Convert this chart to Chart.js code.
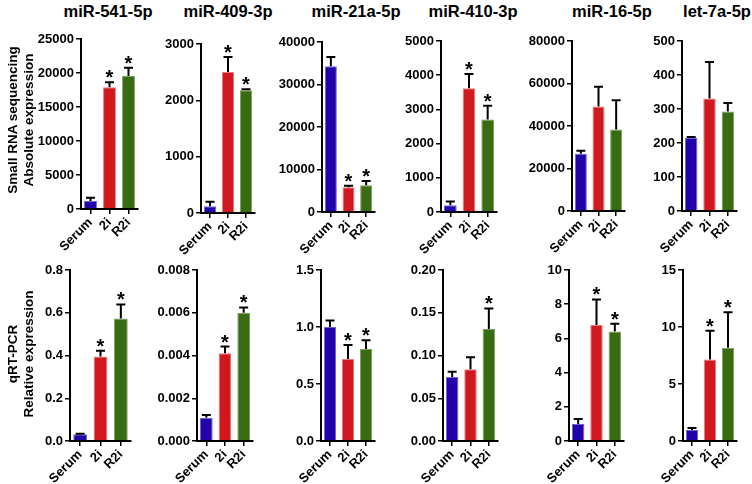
<!DOCTYPE html>
<html>
<head>
<meta charset="utf-8">
<script src="https://cdn.jsdelivr.net/npm/chart.js@4.4.1/dist/chart.umd.min.js"></script>
<style>
body { margin: 0; background: #fff; }
#wrap { position: relative; width: 752px; height: 484px; font-family: 'Liberation Sans', Arial, sans-serif; color: #000; }
#wrap canvas { position: absolute; }
.title { position: absolute; font-weight: bold; font-size: 16.5px; line-height: 18px; transform: translateX(-50%); white-space: nowrap; }
.ytitle { position: absolute; font-weight: bold; font-size: 13.5px; line-height: 16px; text-align: center; white-space: nowrap; transform: translate(-50%, -50%) rotate(-90deg); }
</style>
</head>
<body>
<div id="wrap"></div>
<script>
// groups and miRNA names
const groups = ['Serum', '2i', 'R2i'];
const mirNames = ['miR-541-5p', 'miR-409-3p', 'miR-21a-5p', 'miR-410-3p', 'miR-16-5p', 'let-7a-5p'];
const barColors = ['#2200aa', '#d0191e', '#386b12'];
const barEdges = ['#6f63d0', '#e87b7e', '#7f9e63'];

// small RNA sequencing (absolute expression): mean, SEM, significance
const seqMean = [[1180, 17890, 19560], [120, 2505, 2180], [34300, 5850, 6300], [195, 3615, 2705], [26900, 49200, 38400], [215, 331, 293]];
const seqSem = [[480, 740, 1220], [80, 265, 18], [2150, 350, 1000], [110, 420, 400], [1400, 9300, 13700], [3, 107, 25]];
const seqStar = [[0, 1, 1], [0, 1, 1], [0, 1, 1], [0, 1, 1], [0, 0, 0], [0, 0, 0]];
const seqMax = [25000, 3000, 40000, 5000, 80000, 500];
const seqStep = [5000, 1000, 10000, 1000, 20000, 100];
const seqDec = [0, 0, 0, 0, 0, 0];

// qRT-PCR (relative expression)
const pcrMean = [[0.031, 0.395, 0.573], [0.00109, 0.00411, 0.0060], [1.0, 0.719, 0.807], [0.075, 0.084, 0.131], [0.99, 6.78, 6.41], [0.96, 7.16, 8.19]];
const pcrSem = [[0.003, 0.027, 0.066], [0.00013, 0.00031, 0.00025], [0.056, 0.123, 0.076], [0.006, 0.014, 0.024], [0.3, 1.5, 0.45], [0.18, 2.52, 3.1]];
const pcrStar = [[0, 1, 1], [0, 1, 1], [0, 1, 1], [0, 0, 1], [0, 1, 1], [0, 1, 1]];
const pcrMax = [0.8, 0.008, 1.5, 0.2, 10, 15];
const pcrStep = [0.2, 0.002, 0.5, 0.05, 2, 5];
const pcrDec = [1, 3, 1, 2, 0, 0];

// panel placement in the page
const topBoxes = [
    { ax: 81, ty: 39, zy: 209, cw: 57 },
    { ax: 201, ty: 44, zy: 213, cw: 54 },
    { ax: 322, ty: 42, zy: 212, cw: 53 },
    { ax: 441, ty: 41, zy: 212, cw: 56 },
    { ax: 572, ty: 41, zy: 211, cw: 53 },
    { ax: 682, ty: 41, zy: 211, cw: 55 }
];
const bottomBoxes = [
    { ax: 70, ty: 270, zy: 441, cw: 61 },
    { ax: 197, ty: 270, zy: 441, cw: 56 },
    { ax: 321, ty: 270, zy: 441, cw: 54 },
    { ax: 443, ty: 270, zy: 441, cw: 55 },
    { ax: 569, ty: 270, zy: 441, cw: 55 },
    { ax: 683, ty: 270, zy: 441, cw: 54 }
];
const titleX = [108, 228, 356, 473, 612, 717];

Chart.defaults.font.family = "'Liberation Sans', Arial, sans-serif";
Chart.defaults.color = '#000';

const wrap = document.getElementById('wrap');

const errorBars = {
    id: 'errorBars',
    afterDatasetsDraw(chart, args, opts) {
        const ctx = chart.ctx;
        const y = chart.scales.y;
        const meta = chart.getDatasetMeta(0);
        ctx.save();
        ctx.strokeStyle = '#000';
        ctx.fillStyle = '#000';
        ctx.lineWidth = 2;
        ctx.font = "bold 20px 'Liberation Sans', Arial, sans-serif";
        ctx.textAlign = 'center';
        ctx.textBaseline = 'alphabetic';
        meta.data.forEach((bar, i) => {
            const base = y.getPixelForValue(opts.mean[i]);
            const top = y.getPixelForValue(opts.mean[i] + opts.sem[i]);
            ctx.beginPath();
            ctx.moveTo(bar.x, base);
            ctx.lineTo(bar.x, top);
            ctx.moveTo(bar.x - 4.5, top);
            ctx.lineTo(bar.x + 4.5, top);
            ctx.stroke();
            if (opts.star[i]) {
                ctx.fillText('*', bar.x, top + 2);
            }
        });
        ctx.restore();
    }
};

function makePanel(box, mean, sem, star, max, step, dec) {
    const yw = 48, padTop = 12, xh = 46, padRight = 6;
    const canvas = document.createElement('canvas');
    canvas.width = yw + box.cw + padRight;
    canvas.height = padTop + (box.zy - box.ty) + xh;
    canvas.style.left = (box.ax - yw) + 'px';
    canvas.style.top = (box.ty - padTop) + 'px';
    wrap.appendChild(canvas);

    new Chart(canvas, {
        type: 'bar',
        data: {
            labels: groups,
            datasets: [{
                data: mean,
                backgroundColor: barColors,
                borderColor: barEdges,
                borderWidth: 1,
                barPercentage: 0.68,
                categoryPercentage: 1.0
            }]
        },
        options: {
            responsive: false,
            animation: false,
            layout: { padding: { top: padTop, right: padRight, left: 0, bottom: 0 } },
            plugins: {
                legend: { display: false },
                tooltip: { enabled: false },
                errorBars: { mean: mean, sem: sem, star: star }
            },
            scales: {
                x: {
                    offset: true,
                    grid: { offset: false, drawOnChartArea: false, tickLength: 5, color: '#000', lineWidth: 1.5 },
                    border: { display: true, color: '#000', width: 2 },
                    ticks: {
                        autoSkip: false,
                        minRotation: 45,
                        maxRotation: 45,
                        padding: 1,
                        color: '#000',
                        font: { size: 13, weight: 'bold' }
                    },
                    afterFit: s => { s.height = xh; }
                },
                y: {
                    min: 0,
                    max: max,
                    grid: { drawOnChartArea: false, tickLength: 5, color: '#000', lineWidth: 1.5 },
                    border: { display: true, color: '#000', width: 2 },
                    ticks: {
                        stepSize: step,
                        padding: 2,
                        color: '#000',
                        font: { size: 13, weight: 'bold' },
                        callback: v => Number(v).toFixed(dec)
                    },
                    afterFit: s => { s.width = yw; }
                }
            }
        },
        plugins: [errorBars]
    });
}

mirNames.forEach((name, i) => {
    const t = document.createElement('div');
    t.className = 'title';
    t.textContent = name;
    t.style.left = titleX[i] + 'px';
    t.style.top = '2px';
    wrap.appendChild(t);
    makePanel(topBoxes[i], seqMean[i], seqSem[i], seqStar[i], seqMax[i], seqStep[i], seqDec[i]);
    makePanel(bottomBoxes[i], pcrMean[i], pcrSem[i], pcrStar[i], pcrMax[i], pcrStep[i], pcrDec[i]);
});

function yTitle(lines, cx, cy) {
    const d = document.createElement('div');
    d.className = 'ytitle';
    d.innerHTML = lines.join('<br>');
    d.style.left = cx + 'px';
    d.style.top = cy + 'px';
    wrap.appendChild(d);
}
yTitle(['Small RNA sequencing', 'Absolute expression'], 21, 120);
yTitle(['qRT-PCR', 'Relative expression'], 21, 354);
</script>
</body>
</html>
